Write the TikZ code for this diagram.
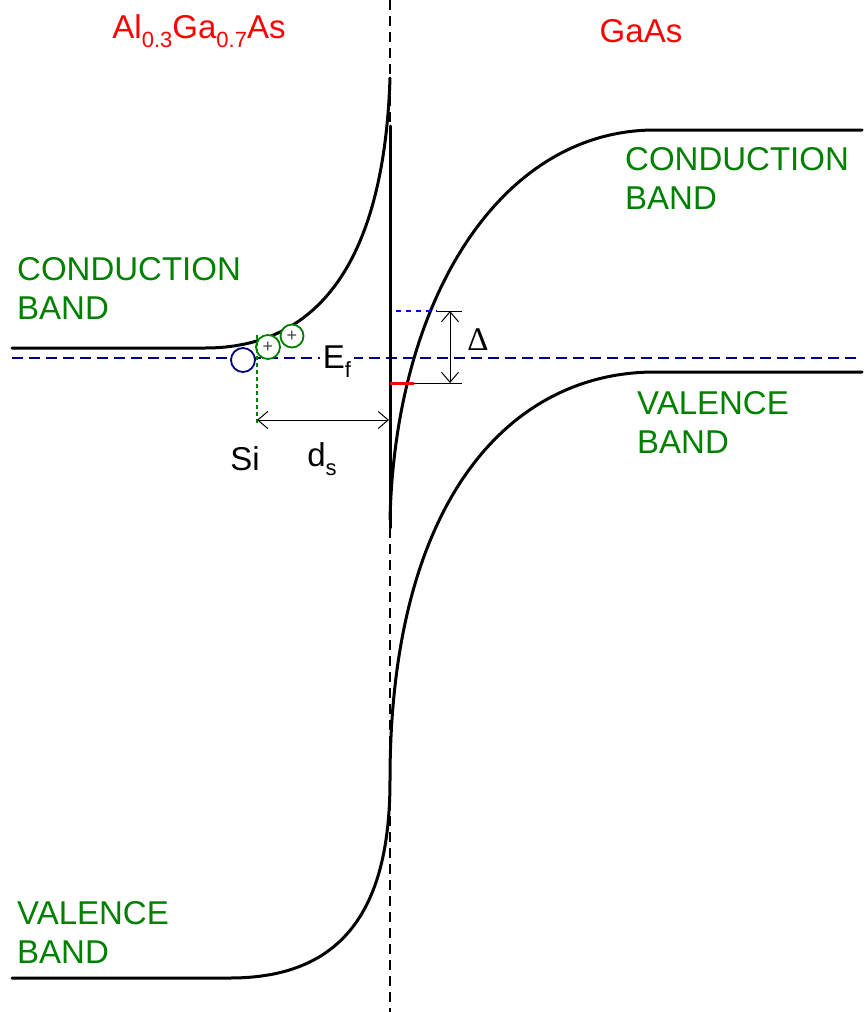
\documentclass[tikz,border=0pt]{standalone}
\usepackage{fontspec}
\setmainfont{Liberation Sans}
\newfontfamily\serifdelta{Liberation Serif}
\usetikzlibrary{arrows.meta}
\definecolor{bandgreen}{RGB}{0,128,0}
\definecolor{fermiblue}{RGB}{0,0,128}
\definecolor{plusgray}{RGB}{70,70,70}
\begin{document}
\begin{tikzpicture}[x=1pt,y=-1pt,
  lbl/.style={font=\fontsize{33}{39}\selectfont, inner sep=0pt},
  bandlbl/.style={lbl, text=bandgreen, align=left, anchor=north west},
  band/.style={line width=3pt, line cap=round},
  dim/.style={line width=1pt, {Straight Barb[length=10pt,width=17pt]}-{Straight Barb[length=10pt,width=17pt]}},
  donor/.style={circle, fill=white, line width=1.8pt, inner sep=0pt, text=plusgray, font=\fontsize{18}{18}\selectfont}]
\newcommand{\mysub}[1]{\raisebox{-0.28em}{\fontsize{22}{22}\selectfont #1}}
\useasboundingbox (0,0) rectangle (866,1012);
% interface dashed line
\draw[line width=1.4pt, dash pattern=on 10pt off 6pt] (390,0) -- (390,1012);
% Fermi level
\draw[fermiblue, line width=1.7pt, dash pattern=on 11pt off 6pt] (12,358) -- (862,358);
% AlGaAs conduction band
\draw[band] (12,348) -- (205,348) .. controls (318,348) and (384,262) .. (390,78);
% conduction band discontinuity
\draw[band] (390,126) -- (390,528);
% GaAs conduction band
\draw[band] (390,520) .. controls (395,300) and (500,130) .. (655,130) -- (862,130);
% valence band
\draw[band] (12,978) -- (230,978) .. controls (350,978) and (390,900) .. (390,780)
  .. controls (390,500) and (510,372) .. (655,372) -- (862,372);
% Delta markers
\coordinate (dtop) at (450,311);
\coordinate (dbot) at (450,383);
\draw[blue, line width=1.7pt, dash pattern=on 5pt off 5pt] (396,311) -- (437,311);
\draw[line width=1pt] (437,311) -- (462,311);
\draw[red, line width=3pt] (390,383) -- (414,383);
\draw[line width=1pt] (414,383) -- (462,383);
\draw[dim] (dtop) -- (dbot);
\node[lbl] (delta) at (478,340) {\serifdelta Δ};
% Si donor and ionised donors
\node[donor, draw=fermiblue, minimum size=24pt] (si) at (243,360) {};
\node[donor, draw=bandgreen, minimum size=24pt] (p1) at (268,347) {+};
\node[donor, draw=bandgreen, minimum size=23pt] (p2) at (292,336) {+};
\coordinate (sitop) at (257,335);
\coordinate (sibot) at (257,424);
\coordinate (dsend) at (389,420);
\draw[bandgreen, line width=1.7pt, dash pattern=on 4pt off 3pt] (sitop) -- (sibot);
\draw[dim] (257,420) -- (dsend);
% labels
\node[lbl] (silbl) at (245,459) {Si};
\node[lbl] (ds) at (322,459) {d\mysub{s}};
\node[lbl, fill=white, inner sep=3pt] (ef) at (337,362) {E\mysub{f}};
\node[lbl, text=red] (t1) at (199,31) {Al\mysub{0.3}Ga\mysub{0.7}As};
\node[lbl, text=red] (t2) at (641,31) {GaAs};
\node[bandlbl] (cbl) at (17,257) {CONDUCTION\\BAND};
\node[bandlbl] (cbr) at (625,147) {CONDUCTION\\BAND};
\node[bandlbl] (vbr) at (637,391) {VALENCE\\BAND};
\node[bandlbl] (vbl) at (17,901) {VALENCE\\BAND};
\end{tikzpicture}
\end{document}
